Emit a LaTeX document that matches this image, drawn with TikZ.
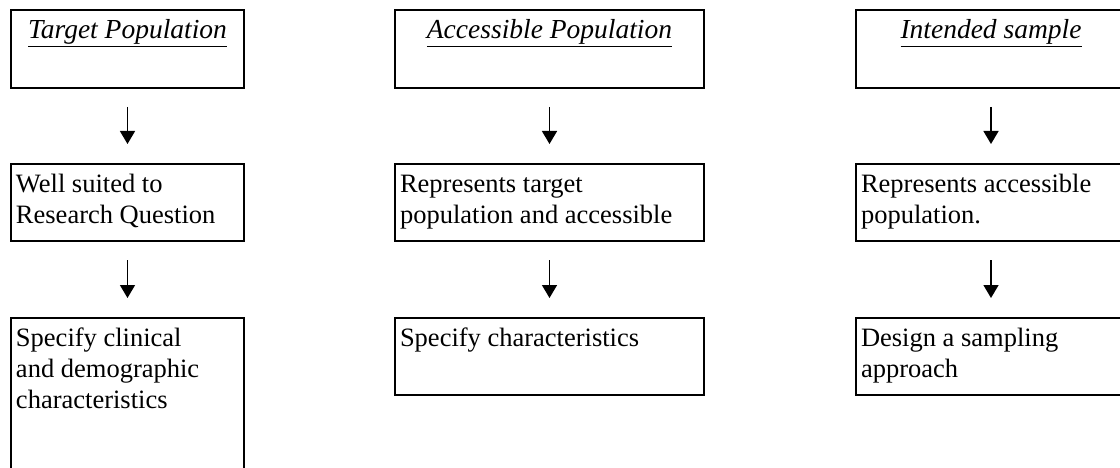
\documentclass[tikz,border=0pt]{standalone}
\usepackage{fontspec}
\setmainfont{Liberation Serif}
\usetikzlibrary{arrows.meta}
\newcommand{\flowtext}[3]{\parbox[t][#2][t]{#1}{\raggedright\strut #3}}
\newcommand{\flowtitle}[3]{\parbox[t][#2][t]{#1}{\centering\fontsize{27.5}{31}\selectfont\strut\underline{\textit{#3}}}}
\tikzset{
  flowbox/.style={draw, line width=2pt, anchor=north west, inner xsep=5pt, inner ysep=7pt,
    font=\fontsize{26.5}{31}\selectfont},
  flowarrow/.style={line width=1.5pt, -{Triangle[width=15pt,length=13pt]},
    shorten <=18pt, shorten >=19pt}
}
\begin{document}
\begin{tikzpicture}[x=1pt,y=-1pt]
\useasboundingbox (0,0) rectangle (1120,468);
\clip (0,0) rectangle (1120,468);
% left column
\node[flowbox] (t1) at (10,9) {\flowtitle{223pt}{64pt}{Target Population}};
\node[flowbox] (t2) at (10,163) {\flowtext{223pt}{63pt}{Well suited to\\Research Question}};
\node[flowbox] (t3) at (10,317) {\flowtext{223pt}{186pt}{Specify clinical\\and demographic\\characteristics}};
% middle column
\node[flowbox] (a1) at (394,9) {\flowtitle{299pt}{64pt}{Accessible Population}};
\node[flowbox] (a2) at (394,163) {\flowtext{299pt}{63pt}{Represents target\\population and accessible}};
\node[flowbox] (a3) at (394,317) {\flowtext{299pt}{63pt}{Specify characteristics}};
% right column
\node[flowbox] (s1) at (855,9) {\flowtitle{260pt}{64pt}{Intended sample}};
\node[flowbox] (s2) at (855,163) {\flowtext{260pt}{63pt}{Represents accessible\\population.}};
\node[flowbox] (s3) at (855,317) {\flowtext{260pt}{63pt}{Design a sampling\\approach}};
% arrows
\draw[flowarrow] (t1.south) -- (t2.north);
\draw[flowarrow] (t2.south) -- (t3.north);
\draw[flowarrow] (a1.south) -- (a2.north);
\draw[flowarrow] (a2.south) -- (a3.north);
\draw[flowarrow] (s1.south) -- (s2.north);
\draw[flowarrow] (s2.south) -- (s3.north);
\end{tikzpicture}
\end{document}
